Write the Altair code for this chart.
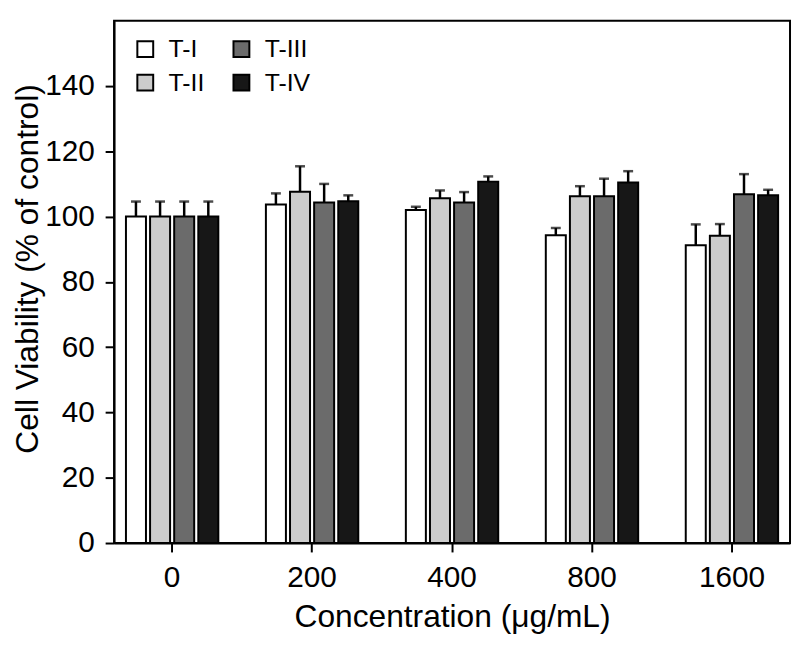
import altair as alt
import pandas as pd

concentrations = ["0", "200", "400", "800", "1600"]
groups = ["T-I", "T-II", "T-III", "T-IV"]
colors = ["#ffffff", "#cccccc", "#6b6b6b", "#171717"]

t1_mean = [100, 103.7, 102.0, 94.3, 91.2]
t1_err = [4.6, 3.4, 1.0, 2.2, 6.4]
t2_mean = [100, 107.6, 105.6, 106.2, 94.1]
t2_err = [4.6, 7.8, 2.4, 3.1, 3.6]
t3_mean = [100, 104.3, 104.3, 106.2, 106.8]
t3_err = [4.6, 5.7, 3.2, 5.4, 6.2]
t4_mean = [100, 104.7, 110.7, 110.4, 106.5]
t4_err = [4.6, 1.8, 1.6, 3.5, 1.7]

rows = []
for g, means, errs in zip(groups, [t1_mean, t2_mean, t3_mean, t4_mean],
                          [t1_err, t2_err, t3_err, t4_err]):
    for c, m, e in zip(concentrations, means, errs):
        rows.append({"conc": c, "group": g, "mean": m, "upper": m + e})
df = pd.DataFrame(rows)

x_enc = alt.X(
    "conc:N",
    sort=concentrations,
    scale=alt.Scale(paddingInner=0.34, paddingOuter=0.085),
    axis=alt.Axis(title="Concentration (μg/mL)", labelAngle=0),
)
xoff = alt.XOffset(
    "group:N",
    sort=groups,
    scale=alt.Scale(paddingInner=0.17, paddingOuter=0),
)
y_enc = alt.Y(
    "mean:Q",
    scale=alt.Scale(domain=[0, 160], nice=False),
    axis=alt.Axis(title="Cell Viability (% of control)",
                  values=[0, 20, 40, 60, 80, 100, 120, 140],
                  titleFontSize=32, titleX=-77, titleY=250,
                  titleBaseline="alphabetic"),
)

bars = alt.Chart(df).mark_bar(stroke="black", strokeWidth=2).encode(
    x=x_enc,
    xOffset=xoff,
    y=y_enc,
    color=alt.Color(
        "group:N",
        scale=alt.Scale(domain=groups, range=colors),
        legend=alt.Legend(
            title=None,
            orient="none",
            legendX=19,
            legendY=16,
            columns=2,
            symbolType="square",
            symbolSize=256,
            symbolStrokeColor="black",
            symbolStrokeWidth=2,
            labelFontSize=25,
            labelOffset=11,
            labelColor="black",
            columnPadding=24,
            rowPadding=8,
            padding=0,
        ),
    ),
)

err_line = alt.Chart(df).mark_rule(color="black", strokeWidth=2.5).encode(
    x=x_enc,
    xOffset=xoff,
    y="mean:Q",
    y2="upper:Q",
)

err_cap = alt.Chart(df).mark_tick(color="black", thickness=2.5, size=10).encode(
    x=x_enc,
    xOffset=xoff,
    y="upper:Q",
)

chart = alt.layer(err_line, err_cap, bars).properties(
    width=682,
    height=527,
    autosize=alt.AutoSizeParams(type="none"),
    padding={"left": 107, "top": 10, "right": 2, "bottom": 90},
).configure(
    font="Liberation Sans",
).configure_view(
    stroke="black",
    strokeWidth=2,
).configure_axis(
    domainColor="black",
    domainWidth=2,
    tickColor="black",
    tickWidth=2,
    tickSize=9,
    labelFontSize=30,
    labelColor="black",
    titleFontSize=32,
    titleFontWeight="normal",
    titleColor="black",
    grid=False,
).configure_axisX(
    labelPadding=11,
    titlePadding=9,
).configure_axisY(
    labelPadding=11,
)

chart.save("out.html", embed_options={"renderer": "svg", "actions": False})
